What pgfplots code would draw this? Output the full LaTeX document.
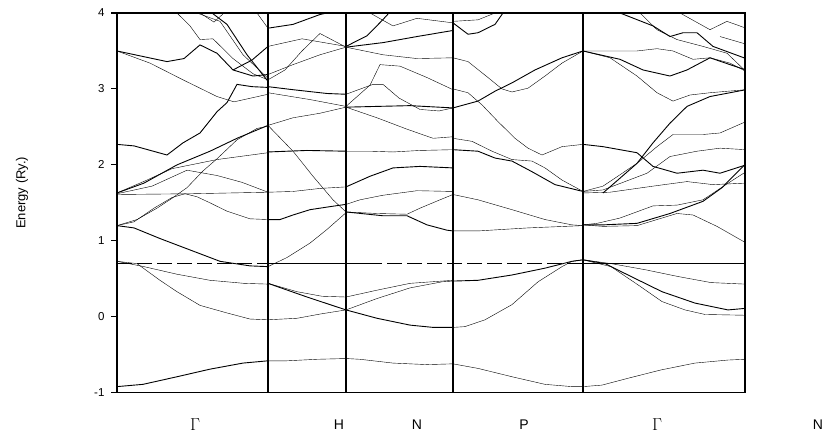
\documentclass[border=0pt]{standalone}
\usepackage{pgfplots}
\pgfplotsset{compat=1.18}
\usepackage{fontspec}
\setmainfont{Liberation Sans}
\begin{document}
\begin{tikzpicture}
\useasboundingbox (-117pt,-43.3pt) rectangle (710pt,392.7pt);
\begin{axis}[at={(0,0)}, anchor=south west, scale only axis,
  width=628pt, height=379.7pt,
  xmin=0, xmax=628, ymin=-1, ymax=4,
  xtick=\empty, ytick={-1,0,1,2,3,4},
  tick align=outside, ytick pos=left, major tick length=6pt,
  axis line style={line width=1.3pt}, tick style={line width=1.1pt, black},
  clip mode=individual,
  /pgf/number format/assume math mode=true,
  yticklabel style={font=\fontsize{11.5}{12}\selectfont, xshift=-3pt},
  cycle list={{black, solid, line width=0.9pt}},
  every axis plot/.append style={no markers, sharp plot},
]
% high-symmetry vertical lines
\addplot[black, line width=1.2pt] coordinates {(151,-1)(151,4)};
\addplot[black, line width=1.2pt] coordinates {(229,-1)(229,4)};
\addplot[black, line width=1.2pt] coordinates {(336,-1)(336,4)};
\addplot[black, line width=1.2pt] coordinates {(466,-1)(466,4)};
% Fermi level
\addplot[black, line width=0.9pt, dash pattern=on 15pt off 5pt] coordinates {(0,0.70)(151,0.70)};
\addplot[black, line width=0.9pt] coordinates {(151,0.70)(250,0.70)};
\addplot[black, line width=0.9pt, dash pattern=on 15pt off 5pt] coordinates {(250,0.70)(466,0.70)};
\addplot[black, line width=0.9pt] coordinates {(466,0.70)(628,0.70)};
% ---------------- Gamma - H
\addplot coordinates {(0,-0.92)(26,-0.89)(60,-0.79)(93,-0.69)(126,-0.61)(151,-0.58)};
\addplot coordinates {(0,0.73)(20,0.70)(43,0.48)(60,0.33)(83,0.15)(110,0.05)(133,-0.03)(151,-0.04)};
\addplot coordinates {(0,0.73)(27,0.66)(60,0.56)(93,0.48)(127,0.44)(151,0.43)};
\addplot coordinates {(0,1.20)(17,1.17)(43,1.03)(77,0.86)(103,0.73)(133,0.67)(151,0.66)};
\addplot coordinates {(0,1.20)(17,1.25)(37,1.43)(55,1.57)(68,1.62)(80,1.58)(93,1.50)(110,1.39)(133,1.29)(151,1.28)};
\addplot coordinates {(0,1.20)(20,1.28)(40,1.43)(55,1.56)(70,1.70)(86,1.92)(100,2.08)(120,2.33)(140,2.48)(151,2.51)};
\addplot coordinates {(0,1.63)(27,1.76)(60,2.00)(93,2.18)(120,2.35)(151,2.52)};
\addplot coordinates {(0,1.62)(35,1.72)(70,1.93)(100,1.86)(125,1.77)(151,1.64)};
\addplot coordinates {(0,1.61)(75,1.62)(151,1.64)};
\addplot coordinates {(0,2.27)(17,2.25)(50,2.13)(66,2.29)(83,2.42)(100,2.70)(110,2.82)(120,3.06)(135,3.03)(151,3.02)};
\addplot coordinates {(0,1.63)(30,1.80)(55,1.95)(100,2.07)(151,2.16)};
\addplot coordinates {(0,3.50)(33,3.34)(66,3.12)(100,2.90)(117,2.83)(151,2.93)};
\addplot coordinates {(0,3.50)(50,3.36)(67,3.40)(83,3.58)(100,3.47)(116,3.25)(136,3.17)(151,3.19)};
\addplot coordinates {(60,4.0)(73,3.83)(83,3.65)(96,3.66)(116,3.40)(136,3.20)(151,3.12)};
\addplot coordinates {(80,4.0)(103,3.89)(126,3.45)(151,3.14)};
\addplot coordinates {(95,4.0)(110,3.85)(130,3.45)(151,3.10)};
\addplot coordinates {(83,4.0)(97,3.88)(107,4.0)};
\addplot coordinates {(140,4.0)(151,3.80)};
\addplot coordinates {(116,3.25)(135,3.38)(151,3.56)};
% ---------------- H - N
\addplot coordinates {(151,-0.58)(170,-0.58)(200,-0.56)(229,-0.55)};
\addplot coordinates {(151,-0.04)(180,-0.02)(205,0.04)(229,0.09)};
\addplot coordinates {(151,0.44)(190,0.26)(229,0.09)};
\addplot coordinates {(151,0.44)(180,0.33)(205,0.27)(229,0.26)};
\addplot coordinates {(151,0.66)(170,0.78)(193,0.97)(210,1.15)(229,1.37)};
\addplot coordinates {(151,1.28)(163,1.28)(176,1.34)(193,1.41)(213,1.45)(229,1.48)};
\addplot coordinates {(151,1.64)(176,1.65)(203,1.69)(229,1.71)};
\addplot coordinates {(151,2.52)(176,2.18)(196,1.85)(216,1.54)(229,1.38)};
\addplot coordinates {(151,2.17)(190,2.19)(229,2.18)};
\addplot coordinates {(151,2.52)(176,2.62)(203,2.68)(229,2.76)};
\addplot coordinates {(151,2.95)(193,2.86)(229,2.77)};
\addplot coordinates {(151,3.03)(176,2.99)(210,2.94)(229,2.93)};
\addplot coordinates {(151,3.19)(176,3.32)(203,3.45)(229,3.55)};
\addplot coordinates {(151,3.12)(168,3.25)(185,3.50)(203,3.73)(229,3.55)};
\addplot coordinates {(151,3.80)(176,3.85)(203,3.98)(210,4.0)};
\addplot coordinates {(151,3.56)(185,3.66)(229,3.56)};
% ---------------- N - P
\addplot coordinates {(229,-0.55)(243,-0.56)(276,-0.61)(310,-0.63)(336,-0.62)};
\addplot coordinates {(229,0.09)(260,-0.02)(293,-0.11)(316,-0.14)(336,-0.14)};
\addplot coordinates {(229,0.09)(260,0.24)(293,0.38)(325,0.46)(336,0.47)};
\addplot coordinates {(229,0.26)(260,0.35)(293,0.44)(325,0.47)(336,0.48)};
\addplot coordinates {(229,1.38)(266,1.33)(290,1.33)(310,1.21)(330,1.14)(336,1.13)};
\addplot coordinates {(229,1.38)(260,1.36)(290,1.35)(303,1.43)(323,1.54)(336,1.61)};
\addplot coordinates {(229,1.48)(243,1.54)(266,1.60)(300,1.66)(336,1.65)};
\addplot coordinates {(229,1.71)(253,1.85)(276,1.96)(303,1.98)(336,1.96)};
\addplot coordinates {(229,2.18)(253,2.18)(276,2.17)(303,2.19)(336,2.20)};
\addplot coordinates {(229,2.76)(260,2.62)(290,2.47)(316,2.35)(336,2.37)};
\addplot coordinates {(229,2.76)(260,2.77)(293,2.78)(336,2.75)};
\addplot coordinates {(229,2.93)(256,3.06)(266,3.06)(282,2.88)(303,2.73)(322,2.71)(336,2.75)};
\addplot coordinates {(229,2.77)(253,3.05)(263,3.32)(283,3.30)(310,3.15)(336,2.99)};
\addplot coordinates {(229,3.55)(266,3.61)(300,3.69)(336,3.77)};
\addplot coordinates {(229,3.55)(266,3.45)(300,3.40)(336,3.41)};
\addplot coordinates {(253,4.0)(276,3.83)(300,3.93)(336,3.87)};
\addplot coordinates {(229,3.56)(250,3.70)(265,3.90)(272,4.0)};
% ---------------- P - Gamma
\addplot coordinates {(336,-0.62)(361,-0.68)(395,-0.79)(428,-0.89)(455,-0.92)(466,-0.92)};
\addplot coordinates {(336,-0.14)(348,-0.13)(368,-0.04)(395,0.16)(421,0.46)(445,0.66)(455,0.73)(466,0.75)};
\addplot coordinates {(336,0.47)(361,0.48)(395,0.55)(428,0.64)(455,0.73)(466,0.75)};
\addplot coordinates {(336,1.13)(361,1.13)(411,1.17)(466,1.20)};
\addplot coordinates {(336,1.61)(361,1.54)(395,1.41)(428,1.28)(455,1.21)(466,1.20)};
\addplot coordinates {(336,2.20)(361,2.18)(378,2.09)(395,2.05)(415,1.91)(438,1.74)(466,1.65)};
\addplot coordinates {(336,2.35)(355,2.31)(375,2.18)(395,2.07)(415,2.05)(428,1.96)(445,1.80)(466,1.65)};
\addplot coordinates {(336,3.0)(351,2.95)(365,2.79)(381,2.57)(398,2.35)(411,2.22)(425,2.13)(445,2.24)(466,2.27)};
\addplot coordinates {(336,2.75)(361,2.84)(378,2.97)(395,3.08)(418,3.25)(445,3.41)(466,3.50)};
\addplot coordinates {(336,3.41)(351,3.36)(371,3.15)(385,3.0)(395,2.96)(411,3.01)(428,3.17)(445,3.34)(466,3.50)};
\addplot coordinates {(336,3.89)(361,3.91)(378,4.0)};
\addplot coordinates {(336,3.87)(351,3.72)(361,3.74)(378,3.85)(386,4.0)};
% ---------------- Gamma - N
\addplot coordinates {(466,-0.92)(485,-0.90)(511,-0.81)(544,-0.70)(578,-0.61)(611,-0.57)(628,-0.56)};
\addplot coordinates {(466,0.75)(494,0.70)(528,0.62)(561,0.53)(594,0.45)(628,0.43)};
\addplot coordinates {(466,0.75)(488,0.70)(511,0.55)(545,0.33)(578,0.18)(611,0.09)(628,0.11)};
\addplot coordinates {(466,0.75)(494,0.66)(521,0.42)(545,0.20)(568,0.09)(588,0.03)(628,0.02)};
\addplot coordinates {(466,1.21)(480,1.23)(503,1.30)(536,1.46)(560,1.47)(586,1.54)(610,1.75)(629,1.91)};
\addplot coordinates {(466,1.21)(486,1.21)(520,1.23)(553,1.36)(586,1.52)(605,1.70)(629,2.02)};
\addplot coordinates {(466,1.21)(486,1.19)(520,1.20)(560,1.36)(576,1.34)(600,1.19)(628,0.98)};
\addplot coordinates {(466,3.50)(486,3.50)(520,3.50)(540,3.53)(556,3.50)(576,3.39)(593,3.41)(613,3.34)(629,3.23)};
\addplot coordinates {(466,3.50)(503,3.39)(526,3.25)(553,3.17)(570,3.25)(593,3.41)(613,3.32)(629,3.25)};
\addplot coordinates {(466,3.50)(493,3.41)(520,3.17)(540,2.95)(556,2.84)(573,2.92)(593,2.95)(629,2.99)};
\addplot coordinates {(523,4.0)(540,3.78)(560,3.65)(586,3.56)(610,3.47)(629,3.23)};
\addplot coordinates {(503,4.0)(536,3.83)(553,3.69)(566,3.74)(580,3.74)(596,3.56)(629,3.40)};
\addplot coordinates {(563,4.0)(593,3.78)(610,3.89)(629,3.80)};
\addplot coordinates {(603,3.69)(629,3.59)};
\addplot coordinates {(486,1.63)(520,2.02)(536,2.29)(553,2.55)(570,2.77)(593,2.90)(629,2.99)};
\addplot coordinates {(466,1.65)(486,1.72)(520,2.02)(540,2.24)(556,2.40)(586,2.40)(603,2.42)(629,2.57)};
\addplot coordinates {(466,1.65)(486,1.67)(530,1.89)(553,2.11)(580,2.18)(603,2.22)(629,2.20)};
\addplot coordinates {(466,2.27)(486,2.24)(520,2.16)(536,1.98)(560,1.89)(586,1.93)(603,1.89)(629,2.00)};
\addplot coordinates {(466,1.63)(493,1.64)(536,1.72)(570,1.78)(596,1.74)(629,1.76)};
\end{axis}
\node[rotate=90, font=\fontsize{13}{14}\selectfont] at (-95pt,200pt) {Energy (Ry.)};
\node[font=\fontsize{17}{18}\selectfont] at (78pt,-32pt) {$\Gamma$};
\node[font=\fontsize{14}{16}\selectfont] at (222pt,-32pt) {H};
\node[font=\fontsize{14}{16}\selectfont] at (300pt,-32pt) {N};
\node[font=\fontsize{14}{16}\selectfont] at (407pt,-32pt) {P};
\node[font=\fontsize{17}{18}\selectfont] at (540pt,-32pt) {$\Gamma$};
\node[font=\fontsize{14}{16}\selectfont] at (701pt,-32pt) {N};
\end{tikzpicture}
\end{document}
